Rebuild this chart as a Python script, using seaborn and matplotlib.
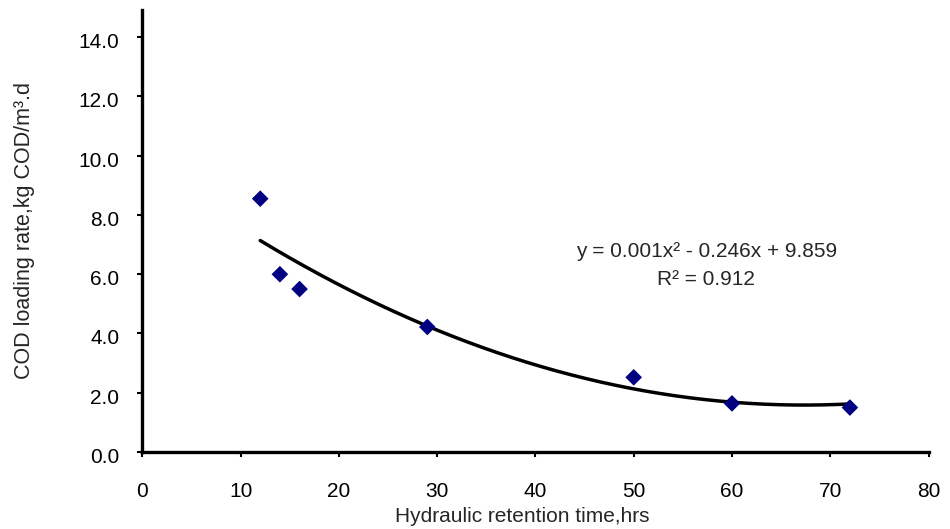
import numpy as np
import pandas as pd
import matplotlib
matplotlib.use("Agg")
import matplotlib.pyplot as plt
from matplotlib import font_manager
from matplotlib.transforms import ScaledTranslation
import seaborn as sns

# Data
hrt_hours = [12, 14, 16, 29, 50, 60, 72]
cod_loading = [8.55, 6.0, 5.5, 4.22, 2.52, 1.64, 1.50]
x_ticks = [0, 10, 20, 30, 40, 50, 60, 70, 80]
y_ticks = [0, 2, 4, 6, 8, 10, 12, 14]
equation_text = "y = 0.001x² - 0.246x + 9.859\nR² = 0.912"

sns.set_style("ticks")
plt.rcParams['font.family'] = ['Liberation Sans', 'DejaVu Sans']

names = {f.name for f in font_manager.fontManager.ttflist}
if "Liberation Sans Narrow" in names:
    ylab_font = dict(family=["Liberation Sans Narrow", "DejaVu Sans"], fontsize=19)
else:
    ylab_font = dict(family=["Liberation Sans", "DejaVu Sans"], fontsize=15.5)

df = pd.DataFrame({"hrt": hrt_hours, "cod": cod_loading})

fig = plt.figure(figsize=(9.5, 5.29), dpi=100)
ax = fig.add_axes([0.1498, 0.1456, 0.8276, 0.8355])

# polynomial (2nd order) trendline fitted to the data
coef = np.polyfit(df["hrt"], df["cod"], 2)
xs = np.linspace(min(hrt_hours), max(hrt_hours), 200)
trend = pd.DataFrame({"hrt": xs, "cod": np.polyval(coef, xs)})
sns.lineplot(data=trend, x="hrt", y="cod", ax=ax, color="black", linewidth=2.5, zorder=2)

sns.scatterplot(data=df, x="hrt", y="cod", ax=ax, marker="D", s=72,
                color="#000080", edgecolor="none", linewidth=0, zorder=3)

ax.set_xlim(0, 80)
ax.set_ylim(0, 14.92)
ax.set_xticks(x_ticks)
ax.set_yticks(y_ticks)
ax.set_xticklabels([str(v) for v in x_ticks], fontsize=15)
ax.set_yticklabels([f"{v:.1f}" for v in y_ticks], fontsize=15)
ax.tick_params(axis="both", direction="out", length=3.5, width=1.5, colors="black")
ax.tick_params(axis="x", pad=18)
ax.tick_params(axis="y", pad=13)

for side in ["top", "right"]:
    ax.spines[side].set_visible(False)
for side in ["left", "bottom"]:
    ax.spines[side].set_color("black")
    ax.spines[side].set_linewidth(2.4)

ax.set_xlabel("Hydraulic retention time,hrs", fontsize=15, labelpad=3)
ax.xaxis.set_label_coords(0.483, -0.1235)
ax.xaxis.label.set_verticalalignment("top")
ax.set_ylabel("COD loading rate,kg COD/m³.d", **ylab_font)
ax.yaxis.set_label_coords(-0.136, 0.5)

ax.text(57.4, 7.08, equation_text, ha="center", va="top", fontsize=15,
        linespacing=1.6, multialignment="center")

# shift y tick labels slightly down as in the reference
offset = ScaledTranslation(0, -3.5 / 100, fig.dpi_scale_trans)
for lab in ax.get_yticklabels():
    lab.set_transform(lab.get_transform() + offset)

fig.savefig("out.png", dpi=100)
